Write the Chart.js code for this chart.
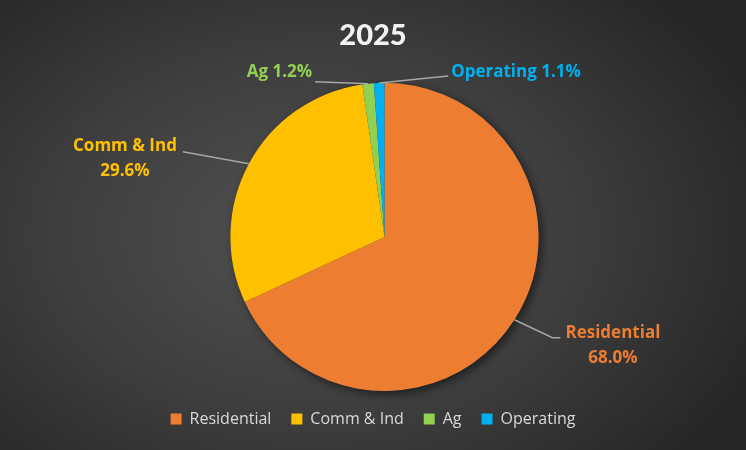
<!DOCTYPE html>
<html>
<head>
<meta charset="utf-8">
<script src="https://cdn.jsdelivr.net/npm/chart.js@4.4.1/dist/chart.umd.min.js"></script>
<style>
  html, body { margin: 0; padding: 0; }
  #wrap {
    width: 746px; height: 450px; position: relative;
    background: radial-gradient(ellipse 65% 75% at 42% 52%, #525252 0%, #3d3d3d 55%, #262626 100%);
  }
</style>
</head>
<body>
<div id="wrap"><canvas id="chart"></canvas></div>
<script>
// data
var categories = ["Residential", "Comm & Ind", "Ag", "Operating"];
var shares = [68.0, 29.6, 1.2, 1.1];
var sliceColors = ["#ED7D31", "#FFC000", "#92D050", "#00B0F0"];

// leader line + label placement, relative to the slice edge
var labelSpots = [
  { elbow: [38, 18], end: [46, 18], side: "right", gap: 5, dy: -5, twoLines: true },
  { end: [-66, -12], side: "left", gap: 6, dy: -6, twoLines: true },
  { end: [-53, -2], side: "left", gap: 3, dy: -10, twoLines: false },
  { end: [69, -7], side: "right", gap: 3, dy: -4, twoLines: false }
];

var labelFont = "bold 17px 'Open Sans'";

//Nudge the pie a bit right of the canvas middle
var shiftPie = {
  id: "shiftPie",
  afterLayout: function(chart) {
    chart.chartArea.left += 23;
    chart.chartArea.width -= 23;
  }
};

//Soft shadow under the pie
var pieShadow = {
  id: "pieShadow",
  beforeDatasetsDraw: function(chart) {
    var arc = chart.getDatasetMeta(0).data[0];
    if (!arc) return;
    var ctx = chart.ctx;
    ctx.save();
    ctx.shadowColor = "rgba(0,0,0,0.55)";
    ctx.shadowBlur = 10;
    ctx.shadowOffsetX = 3;
    ctx.shadowOffsetY = 3;
    ctx.fillStyle = "#3a3a3a";
    ctx.beginPath();
    ctx.arc(arc.x, arc.y, arc.outerRadius, 0, Math.PI * 2);
    ctx.fill();
    ctx.restore();
  }
};

//Data labels with leader lines
var leaderLabels = {
  id: "leaderLabels",
  afterDatasetsDraw: function(chart) {
    var ctx = chart.ctx;
    var meta = chart.getDatasetMeta(0);
    meta.data.forEach(function(arc, i) {
      var spot = labelSpots[i];
      var mid = (arc.startAngle + arc.endAngle) / 2;
      var ax = arc.x + Math.cos(mid) * arc.outerRadius;
      var ay = arc.y + Math.sin(mid) * arc.outerRadius;
      var ex = ax + spot.end[0], ey = ay + spot.end[1];

      ctx.save();
      ctx.strokeStyle = "#A6A6A6";
      ctx.lineWidth = 1.5;
      ctx.beginPath();
      ctx.moveTo(ax, ay);
      if (spot.elbow) ctx.lineTo(ax + spot.elbow[0], ay + spot.elbow[1]);
      ctx.lineTo(ex, ey);
      ctx.stroke();

      var pct = shares[i].toFixed(1) + "%";
      var lines = spot.twoLines ? [categories[i], pct] : [categories[i] + " " + pct];
      ctx.font = labelFont;
      ctx.fillStyle = sliceColors[i];
      ctx.textBaseline = "middle";
      ctx.textAlign = "center";
      var w = Math.max.apply(null, lines.map(function(t) { return ctx.measureText(t).width; }));
      var cx = spot.side === "right" ? ex + spot.gap + w / 2 : ex - spot.gap - w / 2;
      lines.forEach(function(t, k) {
        ctx.fillText(t, cx, ey + spot.dy + k * 25);
      });
      ctx.restore();
    });
  }
};

var ctx = document.getElementById("chart").getContext("2d");

var myChart = new Chart(ctx, {
  type: "pie",
  data: {
    labels: categories,
    datasets: [{
      data: shares,
      backgroundColor: sliceColors,
      borderWidth: 0
    }]
  },
  options: {
    responsive: true,
    maintainAspectRatio: false,
    animation: false,
    layout: { padding: { bottom: 13 } },
    plugins: {
      title: {
        display: true,
        text: "2025",
        color: "#F2F2F2",
        font: { family: "Lato", size: 29, weight: 900 },
        padding: { top: 18, bottom: 30 }
      },
      legend: {
        display: true,
        position: "bottom",
        labels: {
          color: "#D9D9D9",
          font: { family: "'Open Sans'", size: 16 },
          boxWidth: 11,
          boxHeight: 11,
          padding: 20
        }
      },
      tooltip: { enabled: false }
    }
  },
  plugins: [shiftPie, pieShadow, leaderLabels]
});
</script>
</body>
</html>
